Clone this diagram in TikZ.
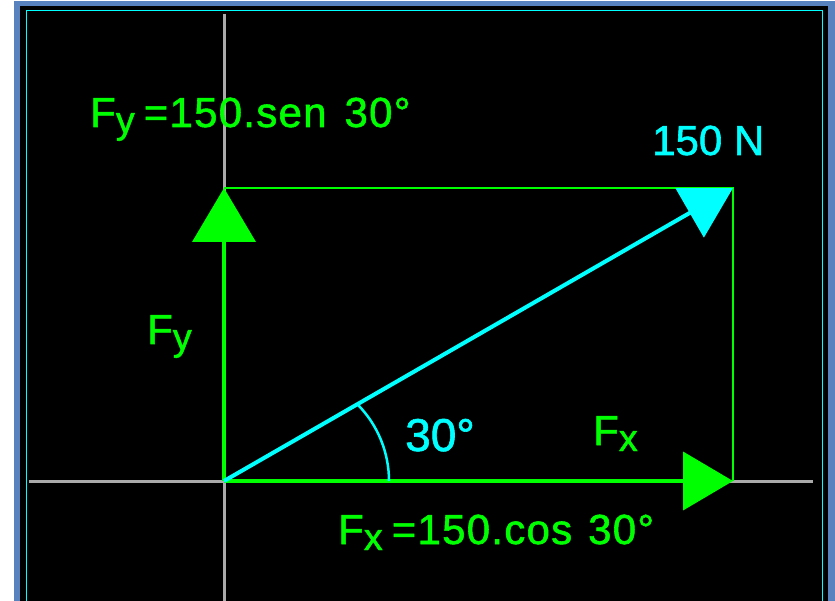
\documentclass[tikz,border=0pt]{standalone}
\usepackage{fontspec}
\usepackage{graphicx}
\setmainfont[FakeBold=1.3]{Liberation Sans}
\newfontfamily\spacedfont[LetterSpace=3,FakeBold=1.3]{Liberation Sans}
\usetikzlibrary{arrows.meta}
\definecolor{gr}{RGB}{0,255,0}
\definecolor{cy}{RGB}{0,255,255}
\definecolor{ax}{RGB}{170,170,170}
\definecolor{frm}{RGB}{88,130,190}
\newcommand{\lowsub}[1]{\raisebox{-6pt}{\scalebox{0.9}{#1}}}
\tikzset{
  lbl/.style={inner sep=0pt, anchor=base west, font=\fontsize{42}{50}\selectfont},
  formula/.style={lbl, font=\spacedfont\fontsize{42}{50}\selectfont},
  axisline/.style={draw=ax, line width=3pt},
  thinbox/.style={draw=gr, line width=1.4pt},
  gvec/.style={draw=gr, line width=4pt},
  cvec/.style={draw=cy, line width=4pt},
}
\begin{document}
\begin{tikzpicture}[x=1pt,y=-1pt]
\useasboundingbox (0,0) rectangle (835,601);
\fill[white] (0,0) rectangle (835,601);
\fill[frm] (14,1) rectangle (835,601);
\fill[black] (20,6) rectangle (828,601);
\draw[cy, line width=1pt] (26,601) -- (26,11) -- (822,11) -- (822,601);
% axes
\coordinate (vt) at (224,14);
\coordinate (vb) at (224,601);
\coordinate (hl) at (29,481);
\coordinate (hr) at (813,481);
\draw[axisline] (vt) -- (vb);
\draw[axisline] (hl) -- (hr);
% key points
\coordinate (O) at (224,481);
\coordinate (Y) at (224,188);
\coordinate (P) at (733,188);
\coordinate (X) at (733,481);
\draw[thinbox] (Y) -- (P) -- (X);
\draw[gvec, -{Triangle[length=50pt,width=58pt]}] (O) -- (X);
\draw[gvec, -{Triangle[length=54pt,width=63pt]}] (O) -- (Y);
\draw[cvec, -{Triangle[length=50pt,width=56pt]}] (O) -- (P);
% angle arc
\coordinate (a1) at (389,481);
\coordinate (a2) at (358.4,405.3);
\draw[cy, line width=2.5pt] (a1) .. controls (389,452.8) and (378,425.6) .. (a2);
% labels
\node[formula, text=gr] (t1) at (90,127) {F\lowsub{y}\hspace{9pt}=150.sen\hspace{18pt}30°};
\node[lbl, text=cy] (t2) at (652,155) {150 N};
\node[lbl, text=gr] (t3) at (147,344) {F\lowsub{y}};
\node[lbl, text=cy, font=\fontsize{46}{54}\selectfont] (t4) at (405,451) {30°};
\node[lbl, text=gr] (t5) at (593,445) {F\lowsub{x}};
\node[formula, text=gr] (t6) at (338,544) {F\lowsub{x}\hspace{9pt}=150.cos\hspace{16pt}30°};
\end{tikzpicture}
\end{document}
